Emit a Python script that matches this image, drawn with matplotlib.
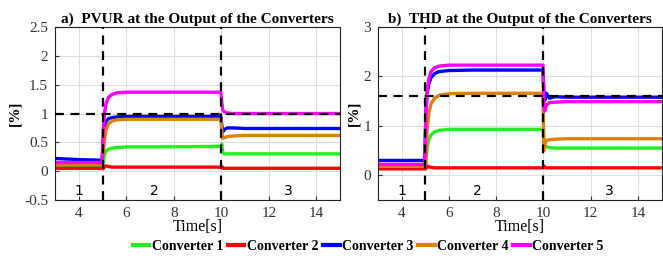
import numpy as np
import matplotlib.pyplot as plt
from matplotlib.lines import Line2D

plt.rcParams['font.family'] = ['Liberation Serif', 'DejaVu Serif']

names = ['Converter 1', 'Converter 2', 'Converter 3', 'Converter 4', 'Converter 5']
colors = ['#22ee22', '#ff0000', '#0000ff', '#e0800a', '#ff00ff']

# sample times (s)
t = [3.0, 4.0, 4.98, 5.03, 5.08, 5.15, 5.25, 5.4, 5.6, 6.0, 7.0, 9.98,
     10.02, 10.06, 10.12, 10.25, 10.5, 11.0, 15.0]

# a) PVUR [%]
pvur = {
    'Converter 1': [0.10, 0.10, 0.10, 0.12, 0.28, 0.35, 0.38, 0.40, 0.41, 0.42, 0.42, 0.43,
                    0.47, 0.33, 0.30, 0.30, 0.30, 0.30, 0.30],
    'Converter 2': [0.05, 0.05, 0.05, 0.04, 0.08, 0.09, 0.08, 0.07, 0.07, 0.07, 0.07, 0.07,
                    0.08, 0.05, 0.05, 0.05, 0.05, 0.05, 0.05],
    'Converter 3': [0.22, 0.20, 0.19, 0.50, 0.75, 0.86, 0.91, 0.93, 0.94, 0.95, 0.95, 0.95,
                    0.80, 0.68, 0.72, 0.75, 0.75, 0.74, 0.74],
    'Converter 4': [0.12, 0.12, 0.12, 0.30, 0.55, 0.72, 0.82, 0.87, 0.89, 0.90, 0.90, 0.90,
                    0.70, 0.57, 0.58, 0.60, 0.61, 0.62, 0.62],
    'Converter 5': [0.15, 0.15, 0.15, 0.70, 1.00, 1.18, 1.28, 1.33, 1.36, 1.37, 1.37, 1.37,
                    1.20, 1.06, 1.03, 1.01, 1.00, 1.00, 1.00],
}

# b) THD [%]
thd = {
    'Converter 1': [0.20, 0.20, 0.20, 0.22, 0.55, 0.72, 0.82, 0.88, 0.91, 0.93, 0.93, 0.93,
                    0.70, 0.62, 0.58, 0.56, 0.55, 0.55, 0.55],
    'Converter 2': [0.13, 0.13, 0.13, 0.13, 0.19, 0.17, 0.16, 0.15, 0.15, 0.15, 0.15, 0.15,
                    0.19, 0.16, 0.15, 0.15, 0.15, 0.15, 0.15],
    'Converter 3': [0.30, 0.30, 0.30, 1.30, 1.65, 1.85, 1.98, 2.06, 2.10, 2.12, 2.13, 2.13,
                    1.70, 1.52, 1.66, 1.56, 1.59, 1.58, 1.58],
    'Converter 4': [0.18, 0.18, 0.18, 0.30, 0.90, 1.25, 1.45, 1.56, 1.62, 1.65, 1.66, 1.66,
                    0.50, 0.62, 0.70, 0.72, 0.73, 0.74, 0.74],
    'Converter 5': [0.22, 0.22, 0.22, 1.20, 1.70, 1.95, 2.10, 2.18, 2.21, 2.23, 2.23, 2.23,
                    1.40, 1.30, 1.42, 1.47, 1.48, 1.49, 1.49],
}

panels = [
    (pvur, 'a)  PVUR at the Output of the Converters', 1.0, (-0.5, 2.5), np.arange(-0.5, 2.51, 0.5)),
    (thd, 'b)  THD at the Output of the Converters', 1.6, (-0.5, 3.0), [0, 1, 2, 3]),
]
positions = [[0.083, 0.225, 0.430, 0.670], [0.570, 0.225, 0.428, 0.670]]

fig = plt.figure(figsize=(6.63, 2.58), dpi=100)

for (data, title, limit, ylim, yticks), pos in zip(panels, positions):
    ax = fig.add_axes(pos)
    for n, c in zip(names, colors):
        ax.plot(t, data[n], color=c, lw=2.4, zorder=2)
    ax.axvline(5, color='k', ls=(0, (4, 3)), lw=1.6, zorder=3)
    ax.axvline(10, color='k', ls=(0, (4, 3)), lw=1.6, zorder=3)
    ax.axhline(limit, color='k', ls=(0, (4, 3)), lw=1.6, zorder=3)
    ax.set_xlim(3, 15)
    ax.set_ylim(*ylim)
    ax.set_xticks([4, 6, 8, 10, 12, 14])
    ax.set_yticks(yticks)
    ax.set_yticklabels(['%g' % v for v in yticks])
    ax.grid(True, color='#dddddd', lw=0.8)
    ax.set_axisbelow(True)
    ax.tick_params(labelsize=11, direction='in', length=3, pad=5, colors='#333333')
    for s in ax.spines.values():
        s.set_color('#222222')
        s.set_linewidth(0.8)
    ax.set_title(title, fontsize=11, fontweight='bold', pad=3)
    ax.set_xlabel('Time[s]', fontsize=11.5, labelpad=-1)
    ax.set_ylabel('[%]', fontsize=11, fontweight='bold', labelpad=2)
    ylab = ylim[0] + 0.05 * (ylim[1] - ylim[0])
    for x, s in [(4, '1'), (7.2, '2'), (12.8, '3')]:
        ax.text(x, ylab, s, fontsize=10, ha='center', va='center', family='DejaVu Sans')

handles = [Line2D([], [], color=c, lw=3) for c in colors]
fig.legend(handles, names, loc='center', bbox_to_anchor=(0.555, 0.045), ncol=5,
           frameon=False, handlelength=1.2, handletextpad=0.15, columnspacing=0.35,
           prop={'weight': 'bold', 'size': 10})

fig.savefig('out.png', dpi=100)
